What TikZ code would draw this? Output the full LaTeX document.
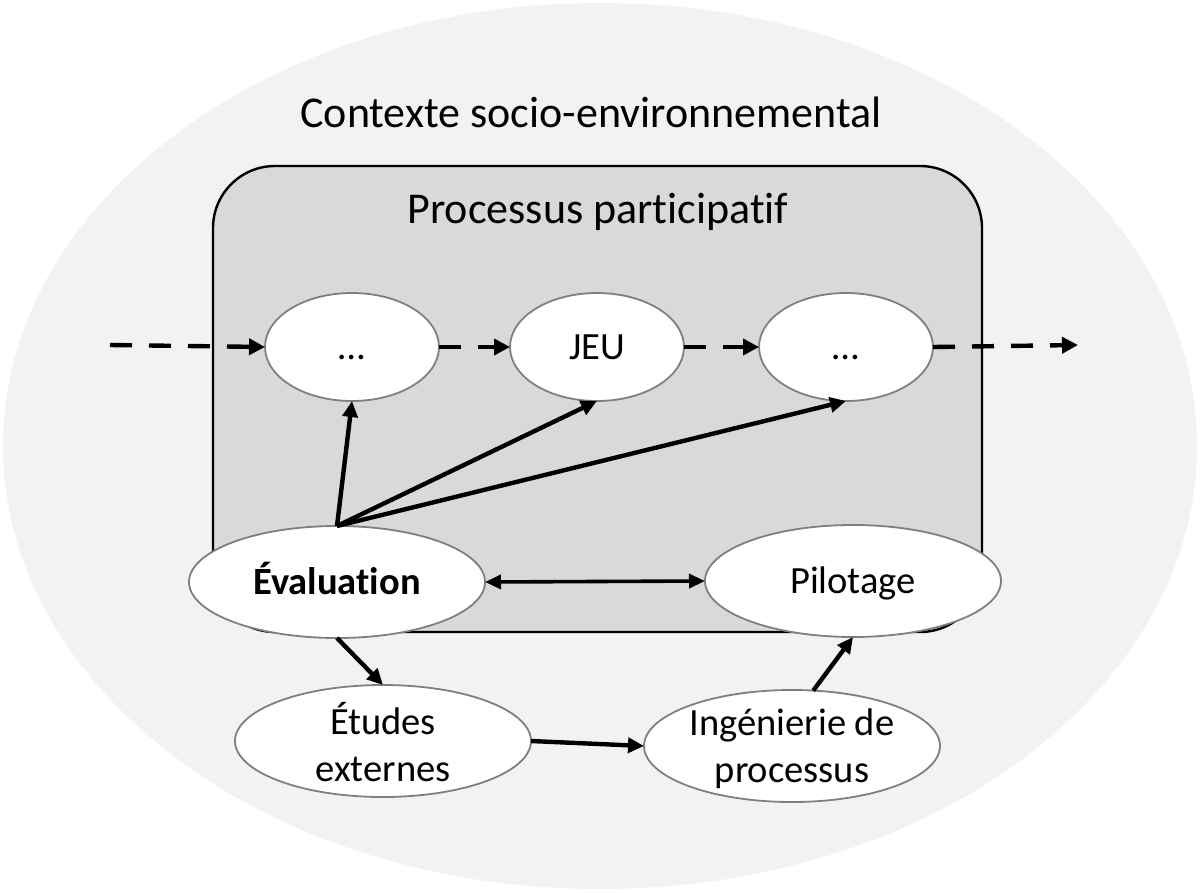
\documentclass[tikz,border=0pt]{standalone}
\usepackage{fontspec}
\setmainfont{Carlito}[Ligatures=NoCommon]
\usetikzlibrary{shapes.geometric,arrows.meta}
\definecolor{outerfill}{HTML}{F2F2F2}
\definecolor{procfill}{HTML}{D9D9D9}
\definecolor{ellborder}{HTML}{7F7F7F}
\tikzset{
  ell/.style={ellipse, draw=ellborder, line width=1.8pt, fill=white, inner sep=0pt, outer sep=0pt},
  smallell/.style={ell, minimum width=174pt, minimum height=108pt},
  bigell/.style={ell, minimum width=296pt, minimum height=112pt},
  lbl/.style={font=\fontsize{38.5}{47}\selectfont, align=center, inner sep=0pt},
  onelbl/.style={lbl, text height=25pt, text depth=0pt},
  ttl/.style={font=\fontsize{44}{53}\selectfont, inner sep=0pt},
  arr/.style={line width=4.4pt, -{Triangle[length=16pt,width=15pt]}},
  darr/.style={line width=3.6pt, {Triangle[length=16pt,width=14pt]}-{Triangle[length=16pt,width=14pt]}},
  dasharr/.style={line width=4.4pt, dash pattern=on 22pt off 17pt, -{Triangle[length=16pt,width=16pt]}},
}
\begin{document}
\begin{tikzpicture}[x=1pt,y=-1pt]
\useasboundingbox (0,0) rectangle (1200,892);
% context
\fill[outerfill] (600,446) ellipse [x radius=597, y radius=443];
\node[ttl] (ctx) at (591,112) {Contexte socio-environnemental};
% participatory process box
\draw[fill=procfill, line width=2.4pt, rounded corners=62pt] (213,166) rectangle (982,632);
\node[ttl] (proc) at (598,212) {Processus participatif};
% top ellipses
\node[smallell] (p1) at (352,347) {};
\node[smallell] (jeu) at (597,347) {};
\node[smallell] (p2) at (846,347) {};
\node[onelbl] at (p1) {\dots};
\node[onelbl] at (jeu) {JEU};
\node[onelbl] at (p2) {\dots};
% dashed flow
\coordinate (in) at (110,345);
\coordinate (out) at (1078,345);
\draw[dasharr] (in) -- (p1.west);
\draw[dasharr] (p1.east) -- (jeu.west);
\draw[dasharr] (jeu.east) -- (p2.west);
\draw[dasharr] (p2.east) -- (out);
% lower ellipses
\node[bigell] (eval) at (337,582) {};
\node[bigell] (pil) at (853,581) {};
\node[bigell] (etu) at (383,741) {};
\node[bigell] (ing) at (792,746) {};
\node[onelbl, font=\fontsize{38.5}{47}\selectfont\bfseries] at (eval) {Évaluation};
\node[onelbl] at (pil) {Pilotage};
\node[lbl, yshift=-1pt] at (etu) {Études\\externes};
\node[lbl, yshift=-3pt] at (ing) {Ingénierie de\\processus};
% connectors
\draw[arr] (eval.north) -- (p1.south);
\draw[arr] (eval.north) -- (jeu.south);
\draw[arr] (eval.north) -- (p2.south);
\draw[darr] (eval.east) -- (pil.west);
\draw[arr] (eval.south) -- (etu.north);
\draw[arr] (etu.east) -- (ing.west);
\draw[arr] (ing.69) -- (pil.south);
\end{tikzpicture}
\end{document}
